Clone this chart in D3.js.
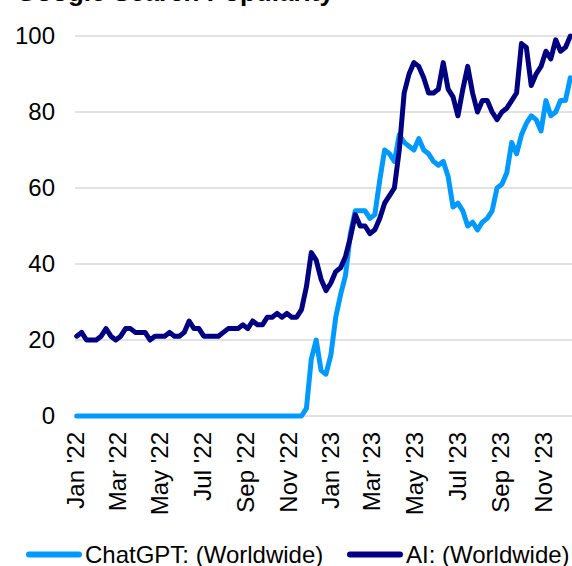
<!DOCTYPE html>
<meta charset="utf-8">
<title>Google Search Popularity</title>
<style>
body { margin: 0; background: #fff; }
text { font-family: "Liberation Sans", Arial, sans-serif; fill: #000; }
.grid line { stroke: #d9d9d9; stroke-width: 1.5px; }
.series { fill: none; stroke-width: 5px; stroke-linejoin: round; stroke-linecap: round; }
</style>
<body>
<svg></svg>
<script src="https://d3js.org/d3.v7.min.js"></script>
<script>

// weekly google trends values, first week starting Sun 2 Jan 2022
var firstWeek = new Date(2022, 0, 2);

var chatgpt = [
  0,0,0,0,0,0,0,0,0,0,
  0,0,0,0,0,0,0,0,0,0,
  0,0,0,0,0,0,0,0,0,0,
  0,0,0,0,0,0,0,0,0,0,
  0,0,0,0,0,0,0,2,15,20,
  12,11,16,26,32,37,48,54,54,54,
  52,53,62,70,69,67,74,72,71,70,
  73,70,69,67,66,67,63,55,56,54,
  50,51,49,51,52,54,60,61,64,72,
  69,74,77,79,78,75,83,79,80,83,
  83,89
];

var ai = [
  21,22,20,20,20,21,23,21,20,21,
  23,23,22,22,22,20,21,21,21,22,
  21,21,22,25,23,23,21,21,21,21,
  22,23,23,23,24,23,25,24,24,26,
  26,27,26,27,26,26,28,34,43,41,
  36,33,35,38,39,42,47,53,50,50,
  48,49,52,56,58,60,70,85,90,93,
  92,89,85,85,86,93,86,84,79,86,
  92,85,80,83,83,80,78,80,81,83,
  85,98,97,87,90,92,96,94,99,96,
  97,100
];

var seriesNames = ["ChatGPT: (Worldwide)", "AI: (Worldwide)"],
    seriesColors = ["#0099ff", "#000080"];

var yTicks = [0, 20, 40, 60, 80, 100];
var xTicks = [
  "2022-01-01", "2022-03-01", "2022-05-01", "2022-07-01", "2022-09-01", "2022-11-01",
  "2023-01-01", "2023-03-01", "2023-05-01", "2023-07-01", "2023-09-01", "2023-11-01"
];

var width = 572,
    height = 566;

var svg = d3.select("svg").attr("width", width).attr("height", height);

var weeks = ai.map((d, i) => d3.timeWeek.offset(firstWeek, i));

var x = d3.scaleTime()
    .domain([new Date(2022, 0, 1), new Date(2023, 11, 31)])
    .range([76, 585]);

var y = d3.scaleLinear()
    .domain([0, 100])
    .range([416, 36]);

// title, mostly cropped off the top
svg.append("text")
    .attr("x", 16)
    .attr("y", 1)
    .style("font-size", "26px")
    .style("font-weight", "bold")
    .text("Google Search Popularity");

// gridlines + y labels
var grid = svg.append("g").attr("class", "grid");
grid.selectAll("line")
    .data(yTicks)
    .enter().append("line")
    .attr("x1", 75)
    .attr("x2", width)
    .attr("y1", d => y(d))
    .attr("y2", d => y(d));

svg.append("g").selectAll("text")
    .data(yTicks)
    .enter().append("text")
    .attr("x", 55)
    .attr("y", d => y(d))
    .attr("dy", "0.35em")
    .attr("text-anchor", "end")
    .style("font-size", "24px")
    .text(d => d);

// x labels, rotated
var fmt = d3.timeFormat("%b '%y"),
    parse = d3.timeParse("%Y-%m-%d");

svg.append("g").selectAll("text")
    .data(xTicks.map(parse))
    .enter().append("text")
    .attr("transform", d => "translate(" + x(d) + ",432) rotate(-90)")
    .attr("dy", "0.35em")
    .attr("text-anchor", "end")
    .style("font-size", "24px")
    .text(d => fmt(d));

// lines (chatgpt underneath)
var line = d3.line()
    .x((d, i) => x(weeks[i]))
    .y(d => y(d));

var plot = svg.append("g");
[chatgpt, ai].forEach((vals, k) => {
    plot.append("path")
        .datum(vals)
        .attr("class", "series")
        .attr("stroke", seriesColors[k])
        .attr("d", line);
});

// legend
var legendX = [29, 350];
var legend = svg.append("g");
seriesNames.forEach((name, k) => {
    legend.append("line")
        .attr("x1", legendX[k])
        .attr("x2", legendX[k] + 50)
        .attr("y1", 554.5)
        .attr("y2", 554.5)
        .attr("stroke", seriesColors[k])
        .attr("stroke-width", 6)
        .attr("stroke-linecap", "round");
    legend.append("text")
        .attr("x", legendX[k] + 56)
        .attr("y", 563)
        .style("font-size", "24px")
        .text(name);
});

</script>
</body>
